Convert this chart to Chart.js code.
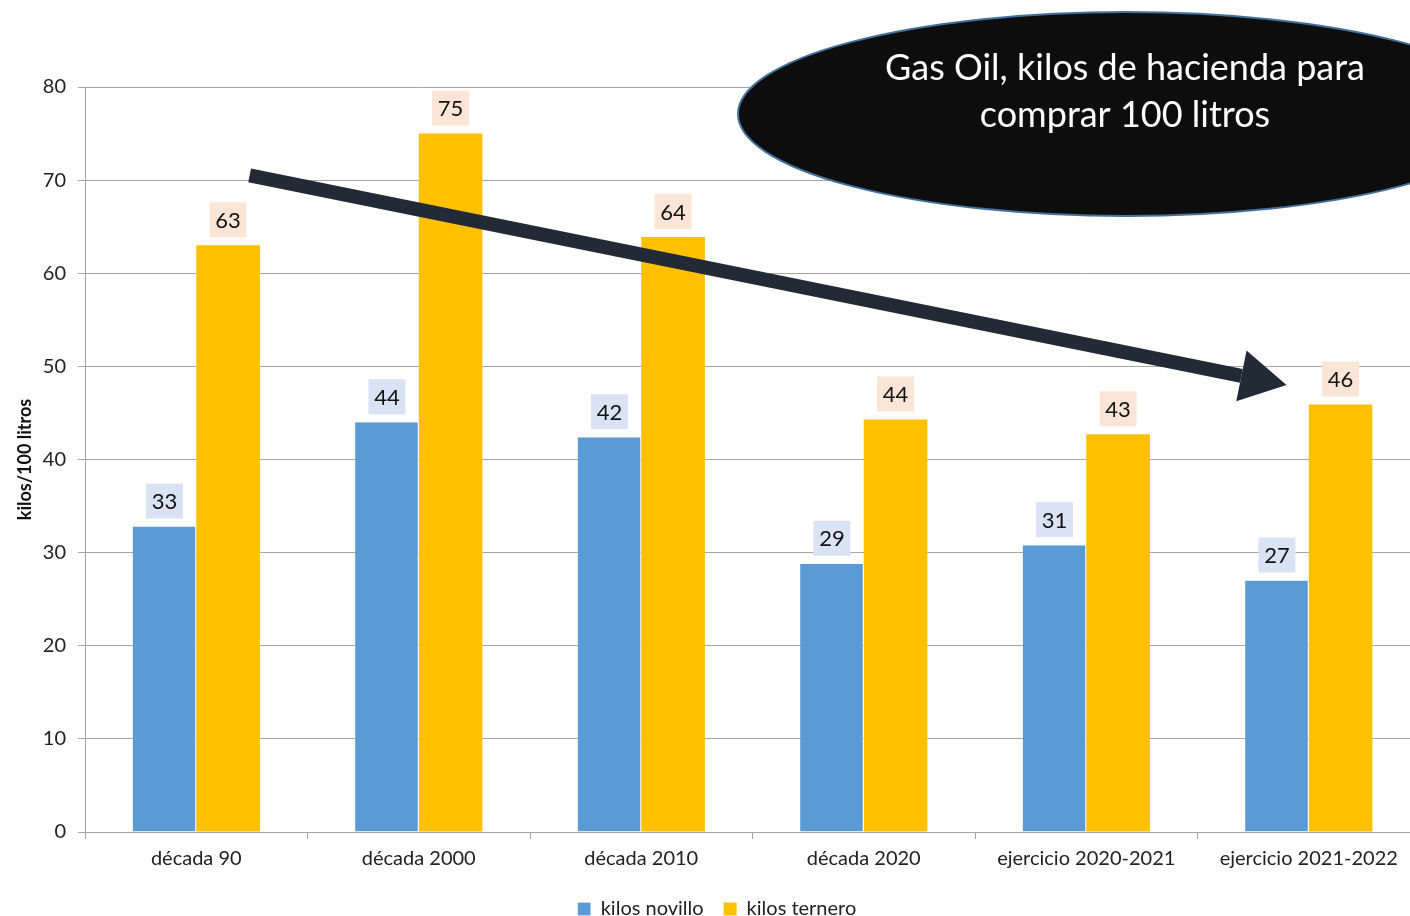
<!DOCTYPE html>
<html>
<head>
<meta charset="utf-8">
<script src="https://cdn.jsdelivr.net/npm/chart.js@4.4.0/dist/chart.umd.min.js"></script>
<style>
  html, body { margin: 0; padding: 0; background: #fff; overflow: hidden; }
  #wrap { width: 1420px; height: 929px; }
</style>
</head>
<body>
<div id="wrap"><canvas id="chart"></canvas></div>
<script>
// ── Data ──────────────────────────────────────────────────────────────────────
const categories = ['década 90', 'década 2000', 'década 2010', 'década 2020', 'ejercicio 2020-2021', 'ejercicio 2021-2022'];
const novillo    = [32.8, 44.0, 42.4, 28.8, 30.8, 27.0];
const ternero    = [63.0, 75.0, 63.9, 44.3, 42.7, 45.9];
const yTicks     = [0, 10, 20, 30, 40, 50, 60, 70, 80];
const calloutLines = ['Gas Oil, kilos de hacienda para', 'comprar 100 litros'];
// arrow in data space: [category offset, value]
const arrowFrom = [0.24, 70.5];
const arrowTo   = [4.9, 48.0];

const FONT = 'Lato, "Open Sans", sans-serif';

// value labels with filled boxes above each bar
const labelBoxes = {
  id: 'labelBoxes',
  afterDatasetsDraw(chart) {
    const { ctx } = chart;
    const bgs = ['#dae3f3', '#fbe5d6'];
    ctx.save();
    ctx.font = `22px ${FONT}`;
    ctx.textAlign = 'center';
    ctx.textBaseline = 'middle';
    chart.data.datasets.forEach((ds, di) => {
      chart.getDatasetMeta(di).data.forEach((bar, i) => {
        const txt = String(Math.round(ds.data[i]));
        const w = 37, h = 35;
        const cy = bar.y - 8 - h / 2;
        ctx.fillStyle = bgs[di];
        ctx.fillRect(bar.x - w / 2, cy - h / 2, w, h);
        ctx.fillStyle = '#111';
        ctx.fillText(txt, bar.x, cy + 1);
      });
    });
    ctx.restore();
  }
};

// trend arrow + black ellipse callout
const overlay = {
  id: 'overlay',
  afterDraw(chart) {
    const { ctx, scales: { x, y } } = chart;
    const px = v => x.getPixelForValue(Math.floor(v[0])) + (v[0] - Math.floor(v[0])) * (x.getPixelForValue(1) - x.getPixelForValue(0));
    const x1 = px(arrowFrom), y1 = y.getPixelForValue(arrowFrom[1]);
    const x2 = px(arrowTo),   y2 = y.getPixelForValue(arrowTo[1]);
    const ang = Math.atan2(y2 - y1, x2 - x1);
    const headLen = 46, headW = 26;
    const bx = x2 - headLen * Math.cos(ang), by = y2 - headLen * Math.sin(ang);
    ctx.save();
    ctx.strokeStyle = '#222a35';
    ctx.fillStyle = '#222a35';
    ctx.lineWidth = 14;
    ctx.beginPath();
    ctx.moveTo(x1, y1);
    ctx.lineTo(bx, by);
    ctx.stroke();
    ctx.beginPath();
    ctx.moveTo(x2, y2);
    ctx.lineTo(bx + headW * Math.sin(ang), by - headW * Math.cos(ang));
    ctx.lineTo(bx - headW * Math.sin(ang), by + headW * Math.cos(ang));
    ctx.closePath();
    ctx.fill();

    // ellipse
    ctx.beginPath();
    ctx.ellipse(1126, 114, 388, 102, 0, 0, Math.PI * 2);
    ctx.fillStyle = '#0d0d0d';
    ctx.fill();
    ctx.lineWidth = 2;
    ctx.strokeStyle = '#41719c';
    ctx.stroke();
    ctx.fillStyle = '#fff';
    ctx.font = `36px ${FONT}`;
    ctx.textAlign = 'center';
    ctx.textBaseline = 'middle';
    ctx.fillText(calloutLines[0], 1125, 68);
    ctx.fillText(calloutLines[1], 1125, 115);
    ctx.restore();
  }
};

new Chart(document.getElementById('chart'), {
  type: 'bar',
  data: {
    labels: categories,
    datasets: [
      { label: 'kilos novillo', data: novillo, backgroundColor: '#5b9bd5', borderColor: '#ffffff', borderWidth: { left: 0, right: 1, top: 0, bottom: 0 } },
      { label: 'kilos ternero', data: ternero, backgroundColor: '#ffc000', borderWidth: 0 },
    ],
  },
  options: {
    responsive: true,
    maintainAspectRatio: false,
    animation: false,
    layout: { padding: { top: 87, right: 0, left: 14, bottom: 0 } },
    datasets: { bar: { barPercentage: 1, categoryPercentage: 0.572 } },
    plugins: {
      legend: {
        position: 'bottom',
        labels: { color: '#222', font: { family: FONT, size: 20 }, boxWidth: 13, boxHeight: 13, padding: 20, useBorderRadius: false },
      },
      tooltip: { enabled: false },
    },
    scales: {
      x: {
        grid: { display: true, drawOnChartArea: false, offset: true, color: '#a6a6a6', tickLength: 7 },
        border: { color: '#a6a6a6' },
        ticks: { color: '#222', font: { family: FONT, size: 20 }, padding: 8 },
        afterFit: s => { s.height = 47; },
      },
      y: {
        min: 0,
        max: 80,
        afterBuildTicks: s => { s.ticks = yTicks.map(v => ({ value: v })); },
        grid: { color: '#a6a6a6', tickLength: 7 },
        border: { color: '#a6a6a6' },
        ticks: { color: '#222', font: { family: FONT, size: 20 }, padding: 12 },
        title: { display: true, text: 'kilos/100 litros', color: '#111', font: { family: FONT, size: 18, weight: 'bold' }, padding: { top: 0, bottom: 10 } },
        afterFit: s => { s.width = 71; },
      },
    },
  },
  plugins: [labelBoxes, overlay],
});
</script>
</body>
</html>
